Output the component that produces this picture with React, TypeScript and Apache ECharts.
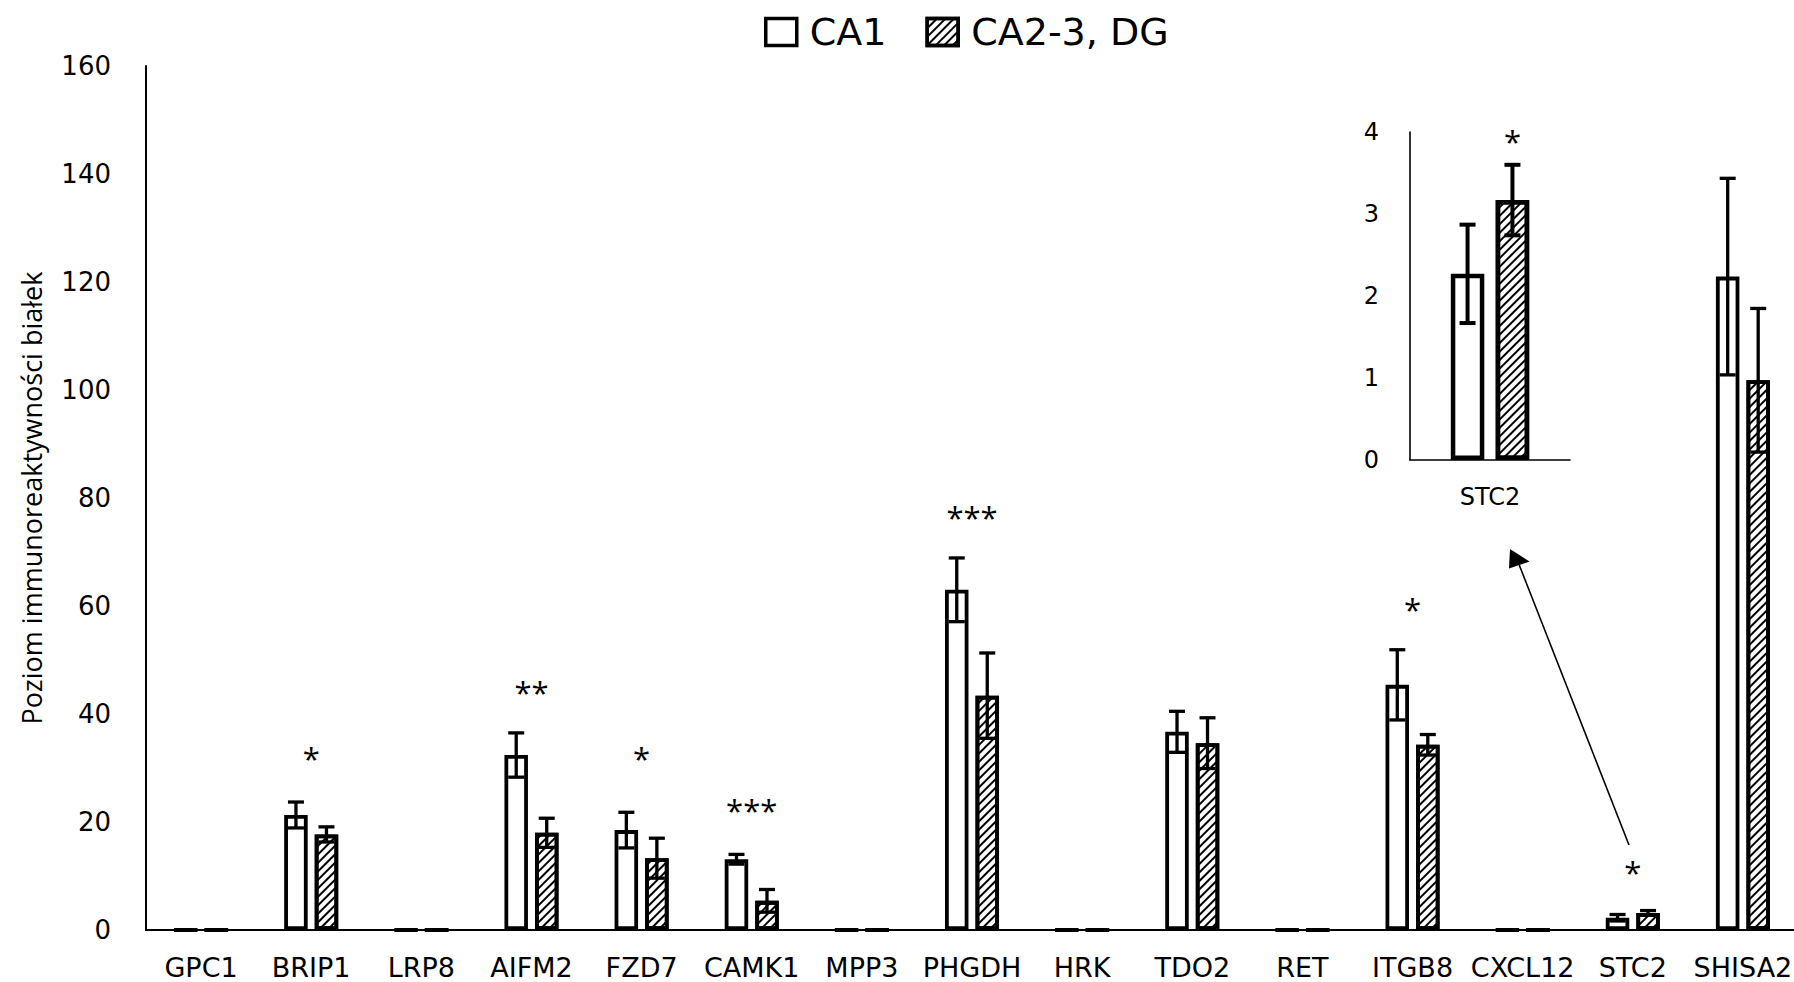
import React, { useEffect, useRef } from "react";
import * as echarts from "echarts";

const categories = ["GPC1", "BRIP1", "LRP8", "AIFM2", "FZD7", "CAMK1", "MPP3", "PHGDH", "HRK", "TDO2", "RET", "ITGB8", "CXCL12", "STC2", "SHISA2"];
const ca1Mean = [0, 21.3, 0, 32.4, 18.5, 13.1, 0, 63.0, 0, 36.7, 0, 45.4, 0, 2.27, 121.0];
const ca1Sd = [0, 2.4, 0, 4.1, 3.3, 0.9, 0, 5.9, 0, 3.8, 0, 6.5, 0, 0.6, 18.2];
const ca23Mean = [0, 17.7, 0, 18.0, 13.3, 5.4, 0, 43.4, 0, 34.6, 0, 34.3, 0, 3.17, 101.8];
const ca23Sd = [0, 1.4, 0, 2.7, 3.7, 2.1, 0, 7.9, 0, 4.7, 0, 1.9, 0, 0.43, 13.3];
const sigLabels = ["", "*", "", "**", "*", "***", "", "***", "", "", "", "*", "", "*", ""];
const sigHeights = [null, 32.0, null, 44.3, 32.0, 22.5, null, 76.7, null, null, null, 59.6, null, 11.0, null];

const insetCategories = ["STC2"];
const insetIndex = 13;
const insetSigLabel = "*";
const insetSigHeight = 3.9;

const seriesNames = ["CA1", "CA2-3, DG"];
const yAxisTitle = "Poziom immunoreaktywności białek";

export default function App() {
  const ref = useRef<HTMLDivElement>(null);
  useEffect(() => {
    document.body.style.margin = "0";
    const chart = echarts.init(ref.current!, null, { renderer: "svg" });

    const hatch = {
      symbol: "rect",
      symbolSize: 1,
      color: "#000",
      backgroundColor: "rgba(0,0,0,0)",
      dashArrayX: [1, 0],
      dashArrayY: [1.5, 3.2],
      rotation: -Math.PI / 4,
    };

    const MAIN_BW = 23.5;
    const MAIN_OFF = 15.25;
    const INS_BW = 33.5;
    const INS_OFF = 22.45;

    const ebMain: number[][] = [];
    categories.forEach((_, i) => {
      if (ca1Sd[i] > 0) ebMain.push([i, ca1Mean[i] - ca1Sd[i], ca1Mean[i] + ca1Sd[i], 0]);
      if (ca23Sd[i] > 0) ebMain.push([i, ca23Mean[i] - ca23Sd[i], ca23Mean[i] + ca23Sd[i], 1]);
    });
    const ebInset = [
      [0, ca1Mean[insetIndex] - ca1Sd[insetIndex], ca1Mean[insetIndex] + ca1Sd[insetIndex], 0],
      [0, ca23Mean[insetIndex] - ca23Sd[insetIndex], ca23Mean[insetIndex] + ca23Sd[insetIndex], 1],
    ];
    const sigData: (number | string)[][] = [];
    sigLabels.forEach((l, i) => {
      if (l && sigHeights[i] != null) sigData.push([i, sigHeights[i] as number]);
    });
    const sigText = sigLabels.filter((l, i) => l && sigHeights[i] != null);

    const errRender = (off: number, lw: number, cap: number) => (params: any, api: any) => {
      const c = api.value(0);
      const lo = api.coord([c, api.value(1)]);
      const hi = api.coord([c, api.value(2)]);
      const x = lo[0] + (api.value(3) === 0 ? -off : off);
      const st = { stroke: "#000", lineWidth: lw };
      return {
        type: "group",
        children: [
          { type: "line", shape: { x1: x, y1: hi[1], x2: x, y2: lo[1] }, style: st },
          { type: "line", shape: { x1: x - cap, y1: hi[1], x2: x + cap, y2: hi[1] }, style: st },
          { type: "line", shape: { x1: x - cap, y1: lo[1], x2: x + cap, y2: lo[1] }, style: st },
        ],
      };
    };

    const font = "DejaVu Sans";
    const axisLineMain = { show: true, lineStyle: { color: "#000", width: 2 } };
    const axisLineInset = { show: true, lineStyle: { color: "#000", width: 1.6 } };

    // arrow geometry (annotation)
    const tail = [1629, 845];
    const tip = [1510, 549];
    const c1 = [1529.5, 561.5];
    const c2 = [1509, 568.5];
    const base = [(c1[0] + c2[0]) / 2, (c1[1] + c2[1]) / 2];

    const starText = (text: string, x: number, y: number) => ({
      type: "text",
      x,
      y: y + 1,
      style: {
        text,
        fontFamily: "Open Sans",
        fontSize: 31,
        fill: "#000",
        textAlign: "center",
        textVerticalAlign: "middle",
      },
    });

    chart.setOption({
      animation: false,
      backgroundColor: "#fff",
      legend: {
        data: seriesNames,
        left: 759,
        top: 8,
        icon: "rect",
        itemWidth: 31,
        itemHeight: 27,
        itemGap: 39,
        itemStyle: { borderColor: "#000", borderWidth: 3.5 },
        textStyle: { fontFamily: font, fontSize: 38, color: "#000", padding: [0, 0, 0, 8] },
        selectedMode: false,
      },
      grid: [
        { left: 146, top: 66, bottom: 52, right: -4, outerBoundsMode: "none" },
        { left: 1410, top: 132, width: 160, height: 328, outerBoundsMode: "none" },
      ],
      xAxis: [
        {
          type: "category",
          gridIndex: 0,
          data: categories,
          axisLine: axisLineMain,
          axisTick: { show: false },
          axisLabel: { fontFamily: font, fontSize: 27, color: "#000", margin: 24, interval: 0 },
        },
        {
          type: "category",
          gridIndex: 1,
          data: insetCategories,
          axisLine: axisLineInset,
          axisTick: { show: false },
          axisLabel: { fontFamily: font, fontSize: 24, color: "#000", margin: 25 },
        },
      ],
      yAxis: [
        {
          type: "value",
          gridIndex: 0,
          min: 0,
          max: 160,
          interval: 20,
          name: yAxisTitle,
          nameLocation: "middle",
          nameGap: 101,
          nameTextStyle: { fontFamily: "Open Sans", fontSize: 27, color: "#000" },
          axisLine: axisLineMain,
          axisTick: { show: false },
          splitLine: { show: false },
          axisLabel: { fontFamily: font, fontSize: 26, color: "#000", margin: 35 },
        },
        {
          type: "value",
          gridIndex: 1,
          min: 0,
          max: 4,
          interval: 1,
          axisLine: axisLineInset,
          axisTick: { show: false },
          splitLine: { show: false },
          axisLabel: { fontFamily: font, fontSize: 24, color: "#000", margin: 31 },
        },
      ],
      series: [
        {
          name: seriesNames[0],
          type: "bar",
          xAxisIndex: 0,
          yAxisIndex: 0,
          data: ca1Mean,
          barWidth: MAIN_BW,
          barGap: "30%",
          itemStyle: { color: "#fff", borderColor: "#000", borderWidth: 3.8 },
          z: 2,
        },
        {
          name: seriesNames[1],
          type: "bar",
          xAxisIndex: 0,
          yAxisIndex: 0,
          data: ca23Mean,
          barWidth: MAIN_BW,
          barGap: "30%",
          itemStyle: { color: "#fff", borderColor: "#000", borderWidth: 3.8, decal: hatch },
          z: 2,
        },
        {
          name: seriesNames[0],
          type: "bar",
          xAxisIndex: 1,
          yAxisIndex: 1,
          data: [ca1Mean[insetIndex]],
          barWidth: INS_BW,
          barGap: "34%",
          itemStyle: { color: "#fff", borderColor: "#000", borderWidth: 4.5 },
          z: 2,
        },
        {
          name: seriesNames[1],
          type: "bar",
          xAxisIndex: 1,
          yAxisIndex: 1,
          data: [ca23Mean[insetIndex]],
          barWidth: INS_BW,
          barGap: "34%",
          itemStyle: { color: "#fff", borderColor: "#000", borderWidth: 4.5, decal: hatch },
          z: 2,
        },
        {
          type: "custom",
          xAxisIndex: 0,
          yAxisIndex: 0,
          data: ebMain,
          renderItem: errRender(MAIN_OFF, 3.3, 8),
          z: 5,
          silent: true,
        },
        {
          type: "custom",
          xAxisIndex: 1,
          yAxisIndex: 1,
          data: ebInset,
          renderItem: errRender(INS_OFF, 4, 8),
          z: 5,
          silent: true,
        },
        {
          type: "custom",
          xAxisIndex: 0,
          yAxisIndex: 0,
          data: sigData,
          renderItem: (params: any, api: any) => {
            const p = api.coord([api.value(0), api.value(1)]);
            return starText(sigText[params.dataIndex], p[0], p[1]);
          },
          z: 6,
          silent: true,
        },
        {
          type: "custom",
          xAxisIndex: 1,
          yAxisIndex: 1,
          data: [[0, insetSigHeight]],
          renderItem: (params: any, api: any) => {
            const p = api.coord([api.value(0), api.value(1)]);
            return starText(insetSigLabel, p[0] + INS_OFF, p[1]);
          },
          z: 6,
          silent: true,
        },
      ],
      graphic: [
        {
          type: "line",
          shape: { x1: tail[0], y1: tail[1], x2: base[0], y2: base[1] },
          style: { stroke: "#000", lineWidth: 1.6 },
          z: 10,
        },
        {
          type: "polygon",
          shape: { points: [tip, c1, c2] },
          style: { fill: "#000" },
          z: 10,
        },
      ],
    });
    return () => chart.dispose();
  }, []);
  return <div ref={ref} style={{ width: 1794, height: 982 }} />;
}
